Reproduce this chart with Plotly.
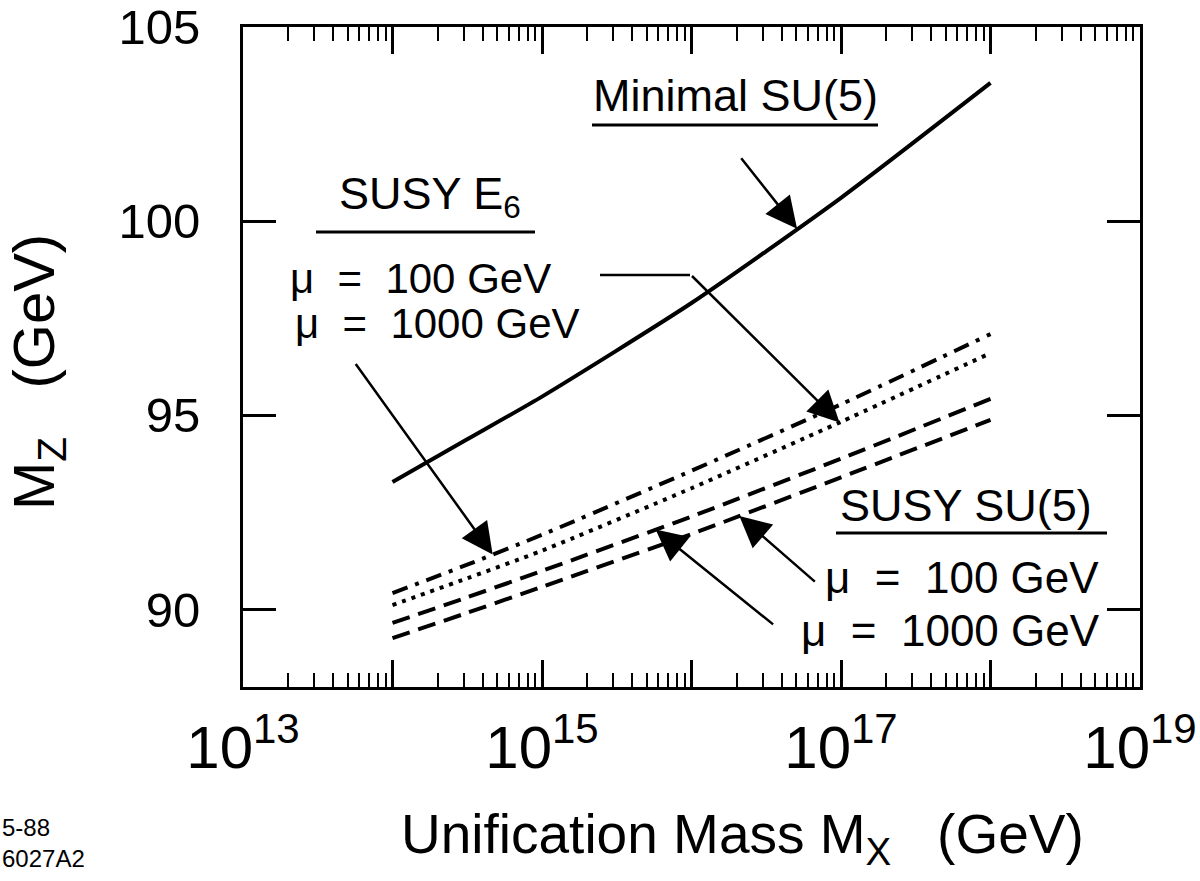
import numpy as np
import plotly.graph_objects as go

# ---------------- data ----------------
mx_gev = [1e14, 3.16e14, 1e15, 1e16, 1e17, 1e18]
mz_minimal_su5 = [93.28, 94.38, 95.48, 97.89, 100.6, 103.56]
mz_susy_e6_mu1000 = [90.42, 91.15, 91.92, 93.57, 95.28, 97.09]   # dash-dot
mz_susy_e6_mu100 = [90.11, 90.80, 91.51, 93.12, 94.83, 96.60]    # dotted
mz_susy_su5_mu1000 = [89.65, 90.31, 90.99, 92.39, 93.88, 95.42]  # dashed (upper)
mz_susy_su5_mu100 = [89.26, 89.91, 90.58, 91.94, 93.40, 94.88]   # dashed (lower)

x_major_ticks = [1e13, 1e14, 1e15, 1e16, 1e17, 1e18, 1e19]
x_tick_text = ["10<sup>13</sup>", "", "10<sup>15</sup>", "", "10<sup>17</sup>", "", "10<sup>19</sup>"]
y_ticks = [90, 95, 100, 105]
y_tick_text = ["90", "95", "100", "105"]

FONT = "Liberation Sans, Arial, Helvetica, sans-serif"
W, H = 1200, 881
L, R, T, B = 243, 1140, 27, 687


def px(xp):
    return (xp - L) / (R - L)


def py(yp):
    return (B - yp) / (B - T)


fig = go.Figure()

series = [
    (mz_minimal_su5, "solid", "Minimal SU(5)"),
    (mz_susy_e6_mu1000, "16px,8px,4px,8px", "SUSY E6 mu=1000"),
    (mz_susy_e6_mu100, "4px,6px", "SUSY E6 mu=100"),
    (mz_susy_su5_mu1000, "18px,9px", "SUSY SU(5) mu=1000"),
    (mz_susy_su5_mu100, "18px,9px", "SUSY SU(5) mu=100"),
]
for ys, dash, name in series:
    fig.add_trace(go.Scatter(
        x=mx_gev, y=ys, mode="lines", name=name,
        line=dict(color="black", width=4, dash=dash, shape="spline", smoothing=0.6),
        showlegend=False, hoverinfo="skip"))

minor_vals = [k * 10 ** n for n in range(13, 19) for k in range(2, 10)]

fig.update_xaxes(
    type="log", range=[13, 19], automargin=False,
    tickvals=x_major_ticks, ticktext=x_tick_text,
    ticks="inside", ticklen=27, tickwidth=2.5, tickcolor="black",
    minor=dict(tickvals=minor_vals, ticks="inside", ticklen=14, tickwidth=2, tickcolor="black"),
    showline=True, linewidth=3, linecolor="black", mirror="ticks",
    showgrid=False, zeroline=False,
    tickfont=dict(family=FONT, size=60, color="black"),
    ticklabelstandoff=6, ticklabeloverflow="allow",
)
fig.update_yaxes(
    range=[88, 105], automargin=False,
    tickvals=y_ticks, ticktext=y_tick_text,
    ticks="inside", ticklen=33, tickwidth=2.5, tickcolor="black",
    showline=True, linewidth=3, linecolor="black", mirror="ticks",
    showgrid=False, zeroline=False,
    tickfont=dict(family=FONT, size=49, color="black"),
    ticklabelstandoff=30, ticklabeloverflow="allow",
)

annotations = []


def text_ann(txt, xp, yp, size=44, **kw):
    annotations.append(dict(text=txt, x=px(xp), y=py(yp), xref="paper", yref="paper",
                            showarrow=False, xanchor="center", yanchor="middle",
                            font=dict(family=FONT, size=size, color="black"), **kw))


text_ann("Minimal SU(5)", 735, 95, size=45)
text_ann("SUSY E<sub>6</sub>", 430, 196, size=45)
text_ann("μ  =  100 GeV", 420, 278, size=42)
text_ann("μ  =  1000 GeV", 437, 324, size=42)
text_ann("SUSY SU(5)", 966, 505, size=45)
text_ann("μ  =  100 GeV", 962, 577, size=44)
text_ann("μ  =  1000 GeV", 950, 630, size=44)

# axis titles and figure code
text_ann("Unification Mass M<sub>X</sub>   (GeV)", 742, 838, size=55)
annotations.append(dict(text="M<sub>Z</sub>   (GeV)", x=px(38), y=py(372), xref="paper", yref="paper",
                        showarrow=False, textangle=-90, xanchor="center", yanchor="middle",
                        font=dict(family=FONT, size=58, color="black")))
annotations.append(dict(text="5-88<br>6027A2", x=px(0), y=py(843), xref="paper", yref="paper",
                        showarrow=False, xanchor="left", yanchor="middle", align="left",
                        font=dict(family=FONT, size=24, color="black")))

lx = np.log10(mx_gev)


def arrow(series_vals, logx_tip, ax, ay):
    ytip = float(np.interp(logx_tip, lx, series_vals))
    annotations.append(dict(text="", x=logx_tip, y=ytip, xref="x", yref="y",
                            ax=ax, ay=ay, axref="pixel", ayref="pixel",
                            showarrow=True, arrowhead=2, arrowsize=2.5, arrowwidth=2.5,
                            arrowcolor="black", standoff=0))


arrow(mz_minimal_su5, 16.706, -57, -72)
arrow(mz_susy_e6_mu100, 16.99, -149, -148)
arrow(mz_susy_e6_mu1000, 14.67, -138, -192)
arrow(mz_susy_su5_mu100, 16.32, 77, 67)
arrow(mz_susy_su5_mu1000, 15.76, 119, 96)

fig.update_layout(annotations=annotations)

shapes = []
for x0, x1, yy in [(592, 878, 125), (316, 535, 232), (836, 1107, 533)]:
    shapes.append(dict(type="line", xref="paper", yref="paper",
                       x0=px(x0), x1=px(x1), y0=py(yy), y1=py(yy),
                       line=dict(color="black", width=3)))
shapes.append(dict(type="line", xref="paper", yref="paper",
                   x0=px(600), x1=px(690), y0=py(275), y1=py(275),
                   line=dict(color="black", width=2.5)))
fig.update_layout(shapes=shapes)

fig.update_layout(
    width=W, height=H,
    margin=dict(l=L, r=W - R, t=T, b=H - B, pad=0, autoexpand=False),
    paper_bgcolor="white", plot_bgcolor="white",
)

fig.write_html("out.html", config={"displayModeBar": False},
               post_script="document.body.style.margin='0px';")
